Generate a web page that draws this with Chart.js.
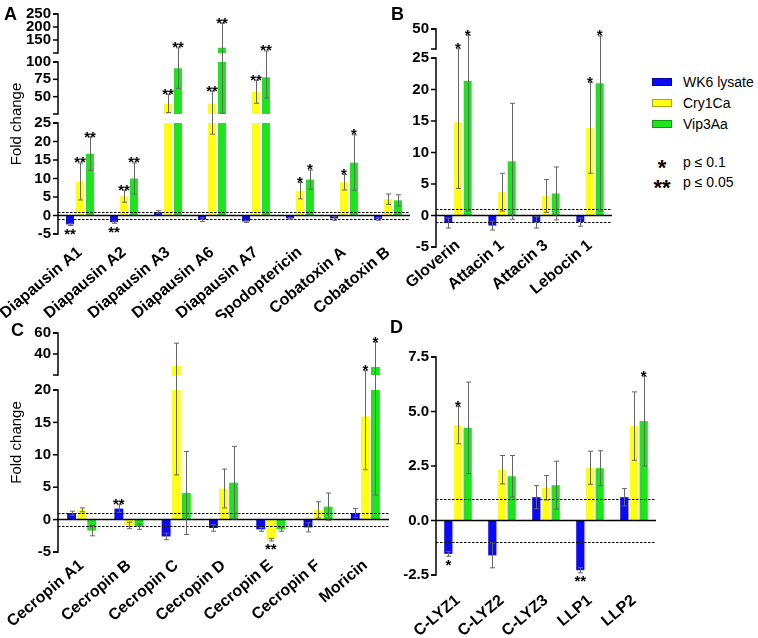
<!DOCTYPE html>
<html>
<head>
<meta charset="utf-8">
<script src="https://cdn.jsdelivr.net/npm/chart.js@4.4.0/dist/chart.umd.min.js"></script>
<style>
    body { margin: 0; background: #fff; width: 758px; height: 638px; position: relative; overflow: hidden;
           font-family: 'Liberation Sans', Arial, sans-serif; }
    canvas { position: absolute; }
    .tag { position: absolute; font-weight: bold; font-size: 18px; line-height: 18px; }
    .leg { position: absolute; font-size: 14px; line-height: 16px; white-space: nowrap; }
    .box { position: absolute; width: 20px; height: 8px; border: 1px solid rgba(0,0,0,0.35); box-sizing: border-box; }
    .star { position: absolute; font-weight: bold; font-size: 22px; line-height: 22px; width: 30px; text-align: center; }
</style>
</head>
<body>
<canvas id="pa"></canvas>
<canvas id="pb"></canvas>
<canvas id="pc"></canvas>
<canvas id="pd"></canvas>
<div class="tag" style="left:4px;top:5px">A</div>
<div class="tag" style="left:391px;top:5px">B</div>
<div class="tag" style="left:11px;top:321px">C</div>
<div class="tag" style="left:390px;top:318px">D</div>
<div id="legend"></div>

<script>
const seriesNames = ['WK6 lysate', 'Cry1Ca', 'Vip3Aa']
const seriesColors = ['#0a0af8', '#ffff14', '#1ee31e']
const foldLines = [1, -1]

// A
const catsA = ['Diapausin A1', 'Diapausin A2', 'Diapausin A3', 'Diapausin A6', 'Diapausin A7', 'Spodoptericin', 'Cobatoxin A', 'Cobatoxin B']
const wk6A    = [-2.4, -1.8, 0.9, -1.1, -1.6, -0.8, -0.8, -0.9]
const wk6ErrA = [0.3, 0.3, 0.4, 0.5, 0.3, 0.2, 0.5, 0.4]
const cryA    = [9.2, 5.2, 40, 40, 57, 6.7, 9.0, 4.4]
const cryErrA = [5.0, 1.6, 13, 18, 16.5, 2.2, 2.1, 1.4]
const vipA    = [16.7, 10.0, 91, 120, 78, 9.7, 14.3, 4.1]
const vipErrA = [4.5, 4.2, 29, 94, 30, 2.6, 7.5, 1.5]
const sigWk6A = ['**', '**', '', '', '', '', '', '']
const sigCryA = ['**', '**', '**', '**', '**', '*', '*', '']
const sigVipA = ['**', '**', '**', '**', '**', '*', '*', '']
const ticksA  = [-5, 0, 5, 10, 15, 20, 25, 50, 75, 100, 150, 200, 250]
const breaksA = [[-5, 25], [25, 100], [100, 250]]

// B
const catsB = ['Gloverin', 'Attacin 1', 'Attacin 3', 'Lebocin 1']
const wk6B    = [-1.2, -1.6, -1.1, -1.05]
const wk6ErrB = [0.8, 0.7, 0.9, 0.65]
const cryB    = [14.8, 3.7, 3.1, 13.9]
const cryErrB = [10.5, 3.0, 2.6, 7.2]
const vipB    = [21.4, 8.6, 3.5, 21.0]
const vipErrB = [20.7, 9.2, 4.2, 20.3]
const sigWk6B = ['', '', '', '']
const sigCryB = ['*', '', '', '*']
const sigVipB = ['*', '', '', '*']
const ticksB  = [-5, 0, 5, 10, 15, 20, 25, 50]
const breaksB = [[-5, 25], [25, 50]]

// C
const catsC = ['Cecropin A1', 'Cecropin B', 'Cecropin C', 'Cecropin D', 'Cecropin E', 'Cecropin F', 'Moricin']
const wk6C    = [1.0, 1.7, -2.6, -1.3, -1.5, -1.2, 1.0]
const wk6ErrC = [0.3, 0.6, 0.5, 0.5, 0.3, 0.7, 0.7]
const cryC    = [1.5, -0.9, 28.6, 4.8, -3.1, 1.5, 15.9]
const cryErrC = [0.3, 0.5, 21.7, 3.0, 0.2, 1.25, 8.2]
const vipC    = [-1.7, -1.1, 4.1, 5.7, -1.5, 2.0, 27.6]
const vipErrC = [0.8, 0.4, 6.4, 5.6, 0.3, 2.1, 23.8]
const sigWk6C = ['', '**', '', '', '', '', '']
const sigCryC = ['', '', '', '', '**', '', '*']
const sigVipC = ['', '', '', '', '', '', '*']
const ticksC  = [-5, 0, 5, 10, 15, 20, 40, 60]
const breaksC = [[-5, 20], [20, 60]]

// D
const catsD = ['C-LYZ1', 'C-LYZ2', 'C-LYZ3', 'LLP1', 'LLP2']
const wk6D    = [-1.53, -1.6, 1.07, -2.28, 1.07]
const wk6ErrD = [0.11, 0.57, 0.53, 0.12, 0.4]
const cryD    = [4.37, 2.33, 1.5, 2.42, 4.33]
const cryErrD = [0.85, 0.65, 0.56, 0.76, 1.57]
const vipD    = [4.25, 2.03, 1.62, 2.4, 4.56]
const vipErrD = [2.1, 0.95, 1.1, 0.8, 2.06]
const sigWk6D = ['*', '', '', '**', '']
const sigCryD = ['*', '', '', '', '']
const sigVipD = ['', '', '', '', '*']
const ticksD  = [-2.5, 0, 2.5, 5, 7.5]
const breaksD = [[-2.5, 7.5]]

// where each panel sits on the page (canvas box + plot area), and the pixel size of every axis piece.
// lift: how far the category labels start above the lowest axis value
const panels = {
    pa: { cats: catsA, vals: [wk6A, cryA, vipA], errs: [wk6ErrA, cryErrA, vipErrA], sigs: [sigWk6A, sigCryA, sigVipA],
          ticks: ticksA, breaks: breaksA, sizes: [111, 52, 39], gap: 9, dec: 0, labPad: 9, lift: 0,
          left: 0, top: 0, w: 425, h: 318, L: 58, T: 14, R: 410, B: 234, catPct: 0.68, barPct: 0.8, title: true },
    pb: { cats: catsB, vals: [wk6B, cryB, vipB], errs: [wk6ErrB, cryErrB, vipErrB], sigs: [sigWk6B, sigCryB, sigVipB],
          ticks: ticksB, breaks: breaksB, sizes: [189, 20], gap: 9, dec: 0, labPad: 1, lift: 12,
          left: 380, top: 0, w: 245, h: 318, L: 436, T: 29, R: 612, B: 247, catPct: 0.66, barPct: 0.82, title: false },
    pc: { cats: catsC, vals: [wk6C, cryC, vipC], errs: [wk6ErrC, cryErrC, vipErrC], sigs: [sigWk6C, sigCryC, sigVipC],
          ticks: ticksC, breaks: breaksC, sizes: [162, 42], gap: 15, dec: 0, labPad: 4, lift: 0,
          left: 0, top: 318, w: 425, h: 320, L: 58, T: 333, R: 389, B: 552, catPct: 0.64, barPct: 0.88, title: true },
    pd: { cats: catsD, vals: [wk6D, cryD, vipD], errs: [wk6ErrD, cryErrD, vipErrD], sigs: [sigWk6D, sigCryD, sigVipD],
          ticks: ticksD, breaks: breaksD, sizes: [218], gap: 0, dec: 1, labPad: 16, lift: 0,
          left: 380, top: 318, w: 300, h: 320, L: 436, T: 357, R: 656, B: 575, catPct: 0.66, barPct: 0.85, title: false },
}

/** linear scale cut into pieces, one piece per entry of breaks */
class BrokenScale extends Chart.LinearScale {
    static id = 'broken'
    static defaults = {}

    segPixel(k, value) {
        const p = panels[this.chart.canvas.id]
        const total = p.sizes.reduce((a, b) => a + b, 0) + p.gap * (p.sizes.length - 1)
        const unit = (this.height + p.lift) / total
        let off = 0
        for (let i = 0; i < k; i++) off += p.sizes[i] + p.gap
        const [lo, hi] = p.breaks[k]
        return this.bottom + p.lift - (off + (value - lo) / (hi - lo) * p.sizes[k]) * unit
    }

    segIndex(value) {
        const br = panels[this.chart.canvas.id].breaks
        for (let i = 0; i < br.length; i++) {
            if (value <= br[i][1]) return i
        }
        return br.length - 1
    }

    getPixelForValue(value) {
        return this.segPixel(this.segIndex(value), value)
    }

    getValueForPixel(pixel) {
        return this.min + (this.bottom - pixel) / this.height * (this.max - this.min)
    }
}
Chart.register(BrokenScale)

function line(ctx, x1, y1, x2, y2) {
    ctx.beginPath()
    ctx.moveTo(x1, y1)
    ctx.lineTo(x2, y2)
    ctx.stroke()
}

/** gaps, fold lines, axis, error bars and stars */
const decor = {
    id: 'decor',
    afterDatasetsDraw(chart) {
        const p = panels[chart.canvas.id]
        const ctx = chart.ctx
        const a = chart.chartArea
        const y = chart.scales.y
        ctx.save()

        ctx.fillStyle = '#fff'
        for (let k = 0; k < p.breaks.length - 1; k++) {
            const top = y.segPixel(k + 1, p.breaks[k + 1][0])
            const bot = y.segPixel(k, p.breaks[k][1])
            ctx.fillRect(a.left, top, a.right - a.left + 2, bot - top)
        }

        ctx.strokeStyle = '#000'
        ctx.lineWidth = 1
        ctx.setLineDash([2.5, 1.5])
        foldLines.forEach(v => {
            const py = Math.round(y.getPixelForValue(v)) + 0.5
            line(ctx, a.left, py, a.right, py)
        })
        ctx.setLineDash([])

        ctx.lineWidth = 1.5
        const zy = y.getPixelForValue(0)
        line(ctx, a.left, zy, a.right, zy)

        // axis pieces with end ticks
        const ax = a.left
        p.breaks.forEach((br, k) => {
            const top = y.segPixel(k, br[1])
            const bot = y.segPixel(k, br[0])
            line(ctx, ax, top - 0.75, ax, bot + 0.75)
            line(ctx, ax - 5, top, ax, top)
            line(ctx, ax - 5, bot, ax, bot)
        })
        y.ticks.forEach(t => {
            const py = y.getPixelForValue(t.value)
            line(ctx, ax - 5, py, ax, py)
        })

        // error bars
        ctx.strokeStyle = '#666'
        ctx.lineWidth = 1
        chart.data.datasets.forEach((ds, i) => {
            const meta = chart.getDatasetMeta(i)
            meta.data.forEach((bar, j) => {
                const v = ds.data[j]
                const e = ds.err[j]
                const x = Math.round(bar.x) + 0.5
                const hi = y.getPixelForValue(v + e)
                const lo = y.getPixelForValue(v - e)
                line(ctx, x, hi, x, lo)
                line(ctx, x - 2.5, hi, x + 2.5, hi)
                line(ctx, x - 2.5, lo, x + 2.5, lo)
            })
        })

        // significance stars
        ctx.fillStyle = '#000'
        ctx.font = 'bold 15px "Liberation Sans", Arial'
        ctx.textAlign = 'center'
        ctx.textBaseline = 'alphabetic'
        chart.data.datasets.forEach((ds, i) => {
            const meta = chart.getDatasetMeta(i)
            meta.data.forEach((bar, j) => {
                const s = ds.sig[j]
                if (!s) return
                const v = ds.data[j]
                const e = ds.err[j]
                if (v >= 0) {
                    ctx.fillText(s, bar.x, y.getPixelForValue(v + e) + 4.5)
                } else {
                    ctx.fillText(s, bar.x, y.getPixelForValue(v - e) + 13.5)
                }
            })
        })
        ctx.restore()
    }
}

function drawPanel(id) {
    const p = panels[id]
    const cv = document.getElementById(id)
    cv.width = p.w
    cv.height = p.h
    cv.style.left = p.left + 'px'
    cv.style.top = p.top + 'px'

    const yWidth = p.L - p.left
    const xHeight = p.top + p.h - p.B + p.lift

    new Chart(cv.getContext('2d'), {
        type: 'bar',
        data: {
            labels: p.cats,
            datasets: seriesNames.map((name, i) => ({
                label: name,
                data: p.vals[i],
                err: p.errs[i],
                sig: p.sigs[i],
                backgroundColor: seriesColors[i],
                borderWidth: 0,
                categoryPercentage: p.catPct,
                barPercentage: p.barPct,
            }))
        },
        options: {
            responsive: false,
            animation: false,
            devicePixelRatio: 1,
            layout: { padding: { left: 0, top: p.T - p.top, right: p.left + p.w - p.R, bottom: 0 } },
            plugins: { legend: { display: false }, tooltip: { enabled: false } },
            scales: {
                x: {
                    type: 'category',
                    offset: true,
                    grid: { display: false, drawTicks: false },
                    border: { display: false },
                    ticks: {
                        color: '#000',
                        font: { size: 16, weight: 'bold', family: '"Liberation Sans", Arial' },
                        minRotation: 40, maxRotation: 40, autoSkip: false, padding: p.labPad,
                    },
                    afterFit: s => {
                        s.height = xHeight
                        s.paddingLeft = 0
                        s.paddingRight = 0
                    },
                },
                y: {
                    type: 'broken',
                    position: 'left',
                    min: p.breaks[0][0],
                    max: p.breaks[p.breaks.length - 1][1],
                    grid: { display: false, drawTicks: false },
                    border: { display: false },
                    ticks: {
                        color: '#000',
                        font: { size: 15, weight: 'bold', family: '"Liberation Sans", Arial' },
                        autoSkip: false, padding: 7,
                        callback: v => p.dec ? v.toFixed(p.dec) : String(v),
                    },
                    title: {
                        display: p.title, text: 'Fold change', color: '#000',
                        font: { size: 15, family: '"Liberation Sans", Arial' },
                        padding: { top: 8, bottom: 0 },
                    },
                    afterBuildTicks: s => { s.ticks = p.ticks.map(v => ({ value: v })) },
                    afterFit: s => {
                        s.width = yWidth
                        s.paddingTop = 0
                        s.paddingBottom = 0
                    },
                },
            },
        },
        plugins: [decor],
    })
}

Object.keys(panels).forEach(drawPanel)

// legend
const legend = document.getElementById('legend')
seriesNames.forEach((name, i) => {
    const cy = 82 + 21 * i
    legend.insertAdjacentHTML('beforeend',
        `<div class="box" style="left:652px;top:${cy - 4}px;background:${seriesColors[i]}"></div>` +
        `<div class="leg" style="left:683px;top:${cy - 8}px">${name}</div>`)
})
const sigNotes = [['*', 'p ≤ 0.1'], ['**', 'p ≤ 0.05']]
sigNotes.forEach(([s, txt], i) => {
    const cy = 162 + 20 * i
    legend.insertAdjacentHTML('beforeend',
        `<div class="star" style="left:647px;top:${cy - 5}px">${s}</div>` +
        `<div class="leg" style="left:683px;top:${cy - 8}px">${txt}</div>`)
})
</script>
</body>
</html>
